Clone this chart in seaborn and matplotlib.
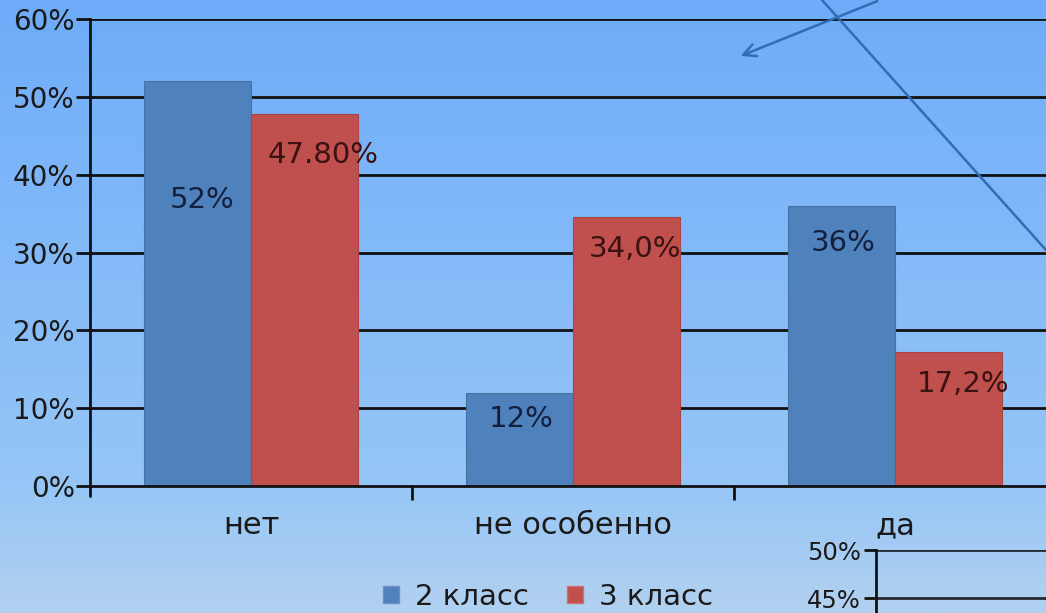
import numpy as np
import pandas as pd
import matplotlib
matplotlib.use("Agg")
import matplotlib.pyplot as plt
from matplotlib.patches import Patch, FancyArrowPatch
from matplotlib.lines import Line2D
import seaborn as sns

# ---- data ----
categories = ["нет", "не особенно", "да"]
series_names = ["2 класс", "3 класс"]
values_2 = [52.0, 12.0, 36.0]
values_3 = [47.8, 34.6, 17.2]
labels_2 = ["52%", "12%", "36%"]
labels_3 = ["47.80%", "34,0%", "17,2%"]
yticks_main = [0, 10, 20, 30, 40, 50, 60]
yticks_small = [45, 50]

# label placement style (pixels: dx, dy below top)
lab_dx = [[5, 2, 2], [19, 9, 15]]
lab_dy = [[119, 26, 37], [41, 32, 32]]

sns.set_theme(style="white")
FONT = ["DejaVu Sans"]
plt.rcParams["font.family"] = FONT

W, H = 1046, 613
fig = plt.figure(figsize=(W / 100, H / 100), dpi=100)

# background gradient
bg = fig.add_axes([0, 0, 1, 1], zorder=-10)
ys = np.linspace(0, 1, 256)
stops_y = [0.0, 486 / 613, 1.0]
stops_c = np.array([[110, 172, 250], [150, 198, 246], [178, 209, 240]]) / 255
grad = np.stack([np.interp(ys, stops_y, stops_c[:, k]) for k in range(3)], axis=-1)
bg.imshow(grad[:, None, :], aspect="auto", extent=[0, 1, 1, 0])
bg.set_xlim(0, 1); bg.set_ylim(1, 0)
bg.axis("off")

def px_rect(x0, y0, x1, y1):
    return [x0 / W, 1 - y1 / H, (x1 - x0) / W, (y1 - y0) / H]

ax = fig.add_axes(px_rect(90, 19, 1056, 486))
ax.set_facecolor("none")

df = pd.DataFrame({
    "cat": categories * 2,
    "cls": [series_names[0]] * 3 + [series_names[1]] * 3,
    "val": values_2 + values_3,
})
blue = "#4F81BD"
red = "#C0504D"
sns.barplot(data=df, x="cat", y="val", hue="cls", order=categories,
            hue_order=series_names, palette=[blue, red], saturation=1,
            width=0.664, gap=0, linewidth=0.8, ax=ax, legend=False,
            err_kws={"linewidth": 0}, zorder=3)
for p in ax.patches:
    fc = p.get_facecolor()
    p.set_edgecolor(tuple(c * 0.88 for c in fc[:3]) + (1,))

ax.set_xlim(-0.5, 2.5)
ax.set_ylim(0, 60)
ax.set_xlabel("")
ax.set_ylabel("")

# grid
ax.set_yticks(yticks_main)
ax.set_yticklabels([f"{t}%" for t in yticks_main])
for t in yticks_main[1:]:
    ax.axhline(t, color="#111111", lw=2, zorder=1)
ax.tick_params(axis="y", length=10, width=2, color="#111111", pad=1,
               labelsize=20, labelcolor="#1a1a1a", left=True)
ax.set_xticks(range(len(categories)))
ax.set_xticklabels(categories)
ax.tick_params(axis="x", length=0, pad=18, labelsize=22, labelcolor="#1a1a1a")
ax.set_xticks([0.5, 1.5, 2.5], minor=True)
ax.tick_params(axis="x", which="minor", length=10, width=2, color="#111111",
               bottom=True, direction="out")
for s in ["top", "right"]:
    ax.spines[s].set_visible(False)
for s in ["left", "bottom"]:
    ax.spines[s].set_color("#111111")
    ax.spines[s].set_linewidth(2)
    ax.spines[s].set_zorder(4)
ax.plot([-0.5, -0.5], [0, -1.3], color="#111111", lw=2, clip_on=False, zorder=4)

# value labels
label_sets = [labels_2, labels_3]
label_cols = ["#13203d", "#3a1212"]
for hi, cont in enumerate(ax.containers):
    for bi, bar in enumerate(cont):
        x = bar.get_x() + bar.get_width() / 2
        y = bar.get_height()
        ax.annotate(label_sets[hi][bi], (x, y),
                    xytext=(lab_dx[hi][bi], -lab_dy[hi][bi]),
                    textcoords="offset pixels", ha="center", va="center",
                    fontsize=21, color=label_cols[hi], zorder=5)

# small secondary axes at bottom right
ax2 = fig.add_axes(px_rect(876, 550, 1100, 694))
ax2.set_facecolor("none")
ax2.set_ylim(35, 50)
ax2.set_xlim(0, 1)
ax2.set_yticks(yticks_small)
ax2.set_yticklabels([f"{t}%" for t in yticks_small])
ax2.set_xticks([])
for t in yticks_small:
    ax2.axhline(t, color="#222a33", lw=2)
ax2.tick_params(axis="y", length=9, width=2, color="#111111", pad=2,
                labelsize=17.5, labelcolor="#1a1a1a", left=True)
for s in ["top", "right", "bottom"]:
    ax2.spines[s].set_visible(False)
ax2.spines["left"].set_color("#111111")
ax2.spines["left"].set_linewidth(2)

# decorative arrow lines
lc = "#2f6db5"
def fp(x, y):
    return (x / W, 1 - y / H)
fig.add_artist(Line2D([fp(822, 0)[0], fp(1046, 250)[0]], [fp(822, 0)[1], fp(1046, 250)[1]],
                      transform=fig.transFigure, color=lc, lw=1.8, zorder=20))
fig.add_artist(FancyArrowPatch(
    fp(880, 0), fp(738, 57), transform=fig.transFigure,
    arrowstyle="->,head_length=6,head_width=3", mutation_scale=1.5,
    color=lc, lw=1.8, zorder=20))

# legend
handles = [Patch(facecolor=blue, edgecolor="#6f8fc0"), Patch(facecolor=red, edgecolor="#d07070")]
fig.legend(handles, series_names, loc="center", bbox_to_anchor=(548 / W, 1 - 597 / H),
           ncol=2, frameon=False, fontsize=21, handlelength=0.55, handleheight=0.55,
           handletextpad=0.55, columnspacing=1.3, labelcolor="#1a1a1a")

fig.savefig("out.png", dpi=100)
